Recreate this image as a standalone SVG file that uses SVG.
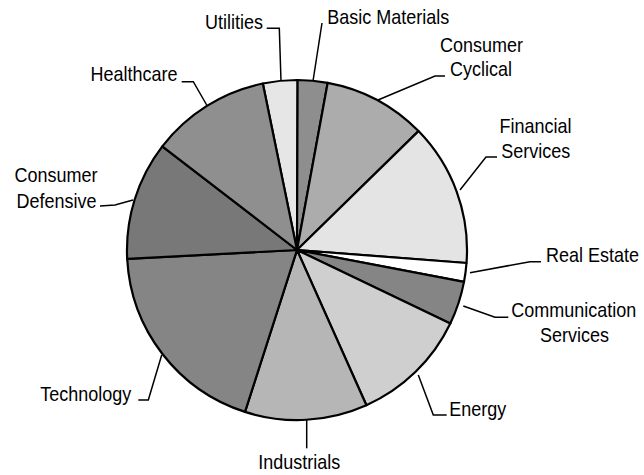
<svg xmlns="http://www.w3.org/2000/svg" width="644" height="475" viewBox="0 0 644 475">
<style>
.s{stroke:#000;stroke-width:2.2;stroke-linejoin:round}
.l{fill:none;stroke:#000;stroke-width:1.5}
text{font-family:"Liberation Sans",Arial,sans-serif;font-size:18px;fill:#000;text-anchor:middle}
</style>
<rect width="644" height="475" fill="#fff"/>
<g id="pie">
<g id="utilities"><path class="s" fill="#e6e6e6" d="M297,250 L262.8,83.5 A170,170 0 0 1 297.6,80 Z"/></g>
<g id="basic-materials"><path class="s" fill="#8e8e8e" d="M297,250 L297.6,80 A170,170 0 0 1 327.7,82.8 Z"/></g>
<g id="consumer-cyclical"><path class="s" fill="#acacac" d="M297,250 L327.7,82.8 A170,170 0 0 1 418.5,131.1 Z"/></g>
<g id="financial-services"><path class="s" fill="#e4e4e4" d="M297,250 L418.5,131.1 A170,170 0 0 1 466.5,263 Z"/></g>
<g id="real-estate"><path class="s" fill="#ffffff" d="M297,250 L466.5,263 A170,170 0 0 1 464,281.9 Z"/></g>
<g id="communication-services"><path class="s" fill="#858585" d="M297,250 L464,281.9 A170,170 0 0 1 450.3,323.5 Z"/></g>
<g id="energy"><path class="s" fill="#cfcfcf" d="M297,250 L450.3,323.5 A170,170 0 0 1 366.4,405.2 Z"/></g>
<g id="industrials"><path class="s" fill="#b6b6b6" d="M297,250 L366.4,405.2 A170,170 0 0 1 245,411.9 Z"/></g>
<g id="technology"><path class="s" fill="#858585" d="M297,250 L245,411.9 A170,170 0 0 1 127.2,258.9 Z"/></g>
<g id="consumer-defensive"><path class="s" fill="#787878" d="M297,250 L127.2,258.9 A170,170 0 0 1 162.3,146.3 Z"/></g>
<g id="healthcare"><path class="s" fill="#8f8f8f" d="M297,250 L162.3,146.3 A170,170 0 0 1 262.8,83.5 Z"/></g>
</g>
<g id="connectors">
<polyline class="l" points="266.7,28.3 279.3,28.3 281,81"/>
<polyline class="l" points="322,23 313,81"/>
<polyline class="l" points="445,76 435,76 378,100"/>
<polyline class="l" points="497,157 486,157 460,190"/>
<polyline class="l" points="541,261.7 530,261.7 470,272.7"/>
<polyline class="l" points="508.3,317.3 495,317.3 463.3,306"/>
<polyline class="l" points="446.7,415 433.3,415 418.3,375"/>
<polyline class="l" points="306.7,420 306.7,448.3"/>
<polyline class="l" points="138.3,400 148.3,400 161.7,355"/>
<polyline class="l" points="100,206 115,205 133,200"/>
<polyline class="l" points="181.7,81.7 193.3,81.7 206.7,105"/>
</g>
<g id="labels">
<text transform="translate(234,28.5) scale(1,1.15)">Utilities</text>
<text transform="translate(388.3,24) scale(1,1.15)">Basic Materials</text>
<text transform="translate(134,80.7) scale(1,1.15)">Healthcare</text>
<text transform="translate(56,181.7) scale(1,1.15)">Consumer</text>
<text transform="translate(56.5,208.3) scale(1,1.15)">Defensive</text>
<text transform="translate(481.5,51.7) scale(1,1.15)">Consumer</text>
<text transform="translate(481,76) scale(1,1.15)">Cyclical</text>
<text transform="translate(535.5,133.3) scale(1,1.15)">Financial</text>
<text transform="translate(535.8,158.3) scale(1,1.15)">Services</text>
<text transform="translate(592.5,261.7) scale(1,1.15)">Real Estate</text>
<text transform="translate(573.8,316.7) scale(1,1.15)">Communication</text>
<text transform="translate(574.5,341.7) scale(1,1.15)">Services</text>
<text transform="translate(477.7,415.7) scale(1,1.15)">Energy</text>
<text transform="translate(299.2,469.3) scale(1,1.15)">Industrials</text>
<text transform="translate(85.8,401) scale(1,1.15)">Technology</text>
</g>
</svg>
